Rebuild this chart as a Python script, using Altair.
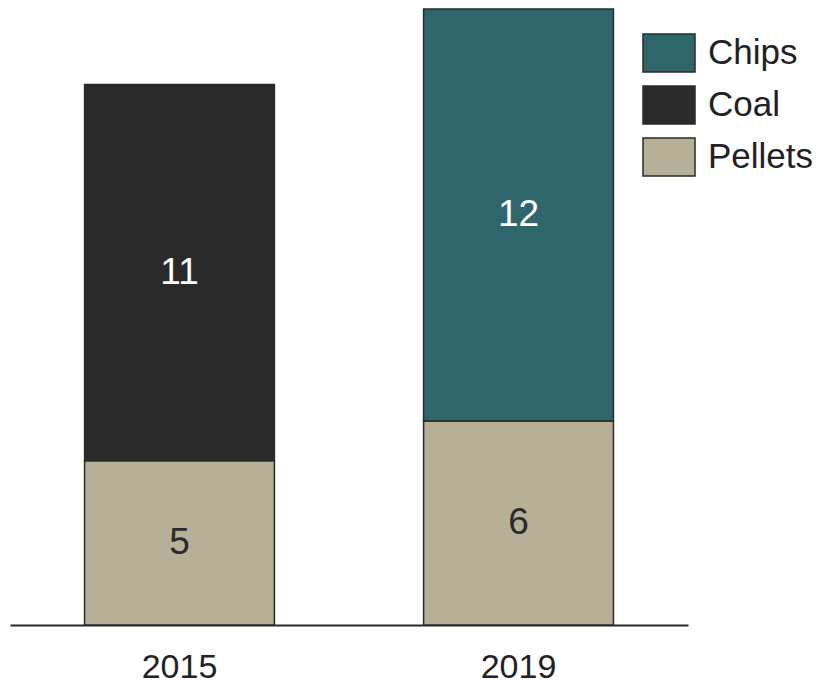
import altair as alt
import pandas as pd

years = ["2015", "2015", "2019", "2019"]
fuels = ["Pellets", "Coal", "Pellets", "Chips"]
values = [4.82, 11.05, 5.99, 12.1]
stack_order = [0, 1, 0, 1]

legend_domain = ["Chips", "Coal", "Pellets"]
legend_colors = ["#2E666C", "#2A2A2A", "#B5B097"]
label_colors = ["#FFFFFF", "#FFFFFF", "#2A2A2A"]

df = pd.DataFrame({"year": years, "fuel": fuels, "value": values, "ord": stack_order})

FONT = "Liberation Sans"

base = alt.Chart(df).transform_stack(
    stack="value", groupby=["year"], as_=["v0", "v1"],
    sort=[alt.SortField("ord", order="ascending")]
).transform_calculate(mid="(datum.v0 + datum.v1) / 2")

x = alt.X("year:N", title=None,
          scale=alt.Scale(paddingInner=0.44, paddingOuter=0.22),
          axis=alt.Axis(labelAngle=0, ticks=False, labelFontSize=34, labelFont=FONT,
                        labelColor="#222222", labelPadding=25, domainColor="#2A2A2A",
                        domainWidth=2))
yscale = alt.Scale(domain=[0, 18.09], nice=False, zero=True)

bars = base.mark_bar(stroke="#2A2A2A", strokeWidth=1.5).encode(
    x=x,
    y=alt.Y("v0:Q", scale=yscale, axis=None),
    y2="v1:Q",
    color=alt.Color("fuel:N", scale=alt.Scale(domain=legend_domain, range=legend_colors),
                    legend=alt.Legend(title=None, orient="none", legendX=632, legendY=17,
                                      symbolType="M-1,-0.73L1,-0.73L1,0.73L-1,0.73Z",
                                      symbolSize=2704, symbolStrokeColor="#2A2A2A",
                                      symbolStrokeWidth=1.5, symbolOpacity=1,
                                      labelFontSize=35, labelFont=FONT, labelColor="#222222",
                                      labelOffset=12, rowPadding=3, padding=0,
                                      labelLimit=300)),
)

labels = base.mark_text(fontSize=37, font=FONT, baseline="middle", align="center").encode(
    x=alt.X("year:N"),
    y=alt.Y("mid:Q", scale=yscale),
    text=alt.Text("value:Q", format=".0f"),
    color=alt.Color("fuel:N", scale=alt.Scale(domain=legend_domain, range=label_colors),
                    legend=None),
)

chart = alt.layer(bars, labels).resolve_scale(color="independent").properties(
    width=678, height=616,
    autosize=alt.AutoSizeParams(type="none"),
    padding={"left": 2, "top": 1, "right": 125, "bottom": 58},
).configure_view(stroke=None)

chart.save("out.html", embed_options={"renderer": "svg", "actions": False})
